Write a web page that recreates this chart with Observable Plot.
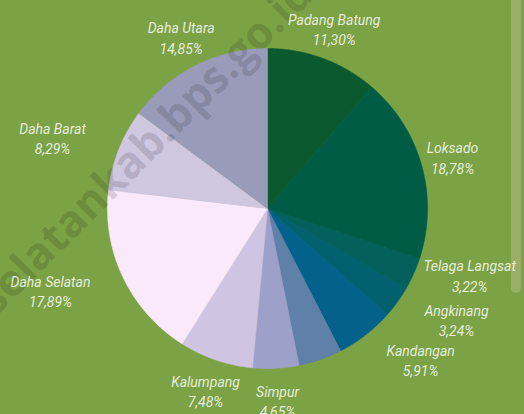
<!DOCTYPE html>
<html>
<head>
<meta charset="utf-8">
<script src="https://cdn.jsdelivr.net/npm/d3@7"></script>
<script src="https://cdn.jsdelivr.net/npm/@observablehq/plot@0.6"></script>
<style>
  html, body { margin: 0; padding: 0; background: #7ba245; overflow: hidden; }
  #wrap { position: relative; width: 524px; height: 414px; overflow: hidden; background: #7ba245; }
  #scroll { position: absolute; left: 511px; top: 0; width: 10px; height: 293px; background: #9dae6c; border-radius: 0 0 5px 5px; z-index: 0; }
  svg { display: block; position: relative; z-index: 1; }
</style>
</head>
<body>
<div id="wrap"><div id="scroll"></div></div>
<script>
// ---- data ----
const districts = ["Padang Batung", "Loksado", "Telaga Langsat", "Angkinang", "Kandangan", "Sungai Raya", "Simpur", "Kalumpang", "Daha Selatan", "Daha Barat", "Daha Utara"];
const shares = [11.30, 18.78, 3.22, 3.24, 5.91, 4.39, 4.65, 7.48, 17.89, 8.29, 14.85];
const sliceColors = ["#0b5a2f", "#005c45", "#03605b", "#03606e", "#03618a", "#5f80a8", "#9da0c9", "#cfc4e2", "#fae8fb", "#cfc6df", "#989cb8"];
const hiddenLabels = ["Sungai Raya"];

// ---- layout ----
const W = 524, H = 414, CX = 267, CY = 208, R = 160;
const labelDist = 1.2;
const labelOverride = { // angle in degrees clockwise from top, distance in radii
  "Telaga Langsat": {a: 108.2, d: 1.33},
  "Angkinang": {a: 120.5, d: 1.371},
  "Kandangan": {a: 134.6, d: 1.344},
  "Daha Selatan": {a: 249.3, d: 1.45},
  "Daha Barat": {a: 288.3, d: 1.415}
};

const total = d3.sum(shares);
let cum = 0;
const slices = districts.map((name, i) => {
  const a0 = cum / total * 2 * Math.PI;
  cum += shares[i];
  const a1 = cum / total * 2 * Math.PI;
  return {name, value: shares[i], a0, a1};
});

const polyPts = [];
for (const s of slices) {
  polyPts.push({name: s.name, x: 0, y: 0});
  const n = Math.max(2, Math.ceil((s.a1 - s.a0) / (Math.PI / 360)));
  for (let k = 0; k <= n; k++) {
    const a = s.a0 + (s.a1 - s.a0) * k / n;
    polyPts.push({name: s.name, x: Math.sin(a), y: Math.cos(a)});
  }
  polyPts.push({name: s.name, x: 0, y: 0});
}

const fmt = v => v.toFixed(2).replace(".", ",") + "%";
const labels = slices.filter(s => !hiddenLabels.includes(s.name)).map(s => {
  const o = labelOverride[s.name];
  const a = o ? o.a * Math.PI / 180 : (s.a0 + s.a1) / 2;
  const d = o ? o.d : labelDist;
  return {name: s.name, text: s.name + "\n" + fmt(s.value), x: d * Math.sin(a), y: d * Math.cos(a)};
});

const chart = Plot.plot({
  width: W, height: H,
  margin: 0,
  style: {background: "transparent", overflow: "hidden"},
  x: {domain: [-CX / R, (W - CX) / R], range: [0, W], axis: null},
  y: {domain: [-(H - CY) / R, CY / R], range: [H, 0], axis: null},
  color: {domain: districts, range: sliceColors},
  marks: [
    Plot.line(polyPts, {x: "x", y: "y", z: "name", fill: "name", stroke: "name", strokeWidth: 0.6, curve: "linear"}),
    Plot.text(labels, {
      x: "x", y: "y", text: "text",
      fill: "#eef3e4", fillOpacity: 0.95,
      fontFamily: "Roboto", fontStyle: "italic", fontWeight: 400, fontSize: 14,
      lineHeight: 1.45, textAnchor: "middle", lineAnchor: "middle"
    })
  ]
});

// watermark (decoration, under the labels)
const textGroup = chart.querySelector("g[aria-label='text']");
const wm = document.createElementNS("http://www.w3.org/2000/svg", "text");
wm.setAttribute("transform", "translate(305,-14) rotate(-45)");
wm.setAttribute("text-anchor", "end");
wm.setAttribute("dy", "0.35em");
wm.setAttribute("font-family", "Open Sans");
wm.setAttribute("font-weight", "bold");
wm.setAttribute("font-size", "44");
wm.setAttribute("fill", "#000");
wm.setAttribute("fill-opacity", "0.15");
wm.textContent = "hulusungaiselatankab.bps.go.id";
chart.insertBefore(wm, textGroup);

document.getElementById("wrap").appendChild(chart);
</script>
</body>
</html>
